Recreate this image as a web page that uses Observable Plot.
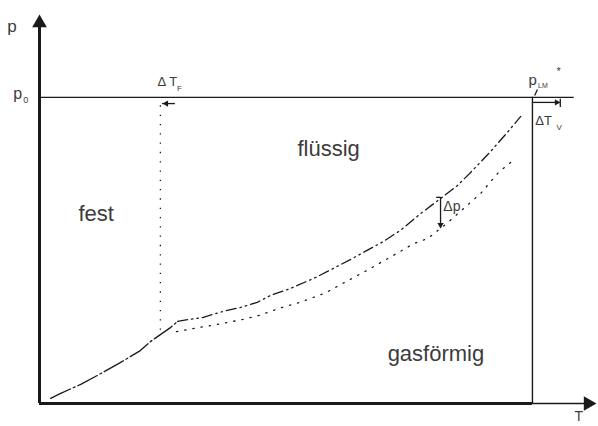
<!DOCTYPE html>
<html>
<head>
<meta charset="utf-8">
<script src="https://cdn.jsdelivr.net/npm/d3@7"></script>
<script src="https://cdn.jsdelivr.net/npm/@observablehq/plot@0.6"></script>
<style>
  html, body { margin: 0; padding: 0; background: #fff; }
  #chart svg { display: block; font-family: "Liberation Sans", Arial, sans-serif; }
</style>
</head>
<body>
<div id="chart"></div>
<script>
// ---- data (T and p in arbitrary units 0..100) ----
const pNull = 78.7;          // p0 level
const tEnd = 96.0;           // end of p0 line
const tRight = 88.5;         // right vertical line (T at p_LM*)
const tFusion = 21.7;        // dotted vertical (ΔT_F)
const pFusionTop = 76.6;
const pFusionBottom = 18.8;

// sublimation curve (solid-ish dashed)
const subT = [2.0, 3.8, 7.4, 11.0, 14.5, 18.1, 19.9, 21.7, 23.5, 24.8];
const subP = [1.3, 2.6, 4.9, 7.7, 10.5, 13.6, 15.9, 17.7, 19.5, 21.1];

// vapour pressure curve of pure solvent (dash-dot)
const vapT = [24.8, 26.8, 29.3, 33.0, 36.1, 39.1, 41.5, 45.1, 49.6, 55.8, 61.8, 64.8, 68.4, 72.0, 75.0, 77.4, 81.0, 84.0, 86.4];
const vapP = [21.1, 21.6, 22.1, 23.7, 24.7, 26.0, 27.8, 29.6, 32.4, 37.0, 41.7, 44.5, 48.8, 52.7, 56.0, 59.4, 64.8, 69.7, 73.8];

// vapour pressure curve of solution (dotted)
const solT = [24.6, 26.6, 28.4, 31.1, 32.9, 34.7, 36.5, 39.3, 43.6, 47.2, 51.4, 59.4, 67.2, 69.7, 73.3, 79.2, 82.4, 84.6];
const solP = [18.5, 19.0, 19.5, 20.1, 20.6, 21.1, 21.6, 22.6, 24.7, 26.2, 28.5, 34.7, 41.1, 42.4, 46.5, 54.0, 59.4, 62.0];

// Δp arrow
const dpT = 72.0, dpTop = 53.0, dpBottom = 45.0;
// ΔT_F arrow
const dtfP = 77.1, dtfFrom = 24.4, dtfTo = 22.1;
// ΔT_V arrow
const dtvP = 77.4, dtvFrom = 88.7, dtvTo = 93.5, dtvTickTop = 78.2, dtvTickBottom = 76.1;
// p_LM* marker tick
const lmTick = [{x1: 88.9, y1: 79.2, x2: 89.4, y2: 80.7}];

// region labels
const regionText = ["fest", "flüssig", "gasförmig"];
const regionT = [7.0, 46.3, 62.5];
const regionP = [47.0, 63.6, 11.0];

// small labels (main part)
const labText = ["p", "p", "Δ T", "p", "*", "ΔT", "Δp"];
const labT = [-5.8, -4.7, 21.2, 87.8, 92.8, 89.0, 72.5];
const labP = [95.6, 78.4, 81.5, 82.0, 84.4, 71.5, 49.6];
const labSize = [17, 16, 13, 15, 11, 13, 14];
// subscripts
const subText = ["0", "F", "LM", "V"];
const subTT = [-2.9, 24.7, 89.5, 92.8];
const subPP = [77.3, 80.4, 81.0, 70.4];
const subSize = [9, 8, 7, 8];

// axis names
const axisT = {text: "T", x: 96.8, y: -4.5};

// ---- build tables ----
const sub = subT.map((t, i) => ({T: t, p: subP[i]}));
const vap = vapT.map((t, i) => ({T: t, p: vapP[i]}));
const sol = solT.map((t, i) => ({T: t, p: solP[i]}));
const regions = regionText.map((s, i) => ({s, T: regionT[i], p: regionP[i]}));
const labs = labText.map((s, i) => ({s, T: labT[i], p: labP[i], size: labSize[i]}));
const subs = subText.map((s, i) => ({s, T: subTT[i], p: subPP[i], size: subSize[i]}));

// triangle symbol offset helper (tip offset from centroid for d3 triangle2)
const tipOff = r => Math.sqrt(Math.PI * r * r) * 0.6824;

const ink = "#1a1a1a";
const txt = "#3c3c3c";

const chart = Plot.plot({
  width: 598,
  height: 426,
  marginLeft: 39,
  marginRight: 2,
  marginTop: 14,
  marginBottom: 23,
  x: {domain: [0, 100], axis: null},
  y: {domain: [0, 100], axis: null},
  marks: [
    // p0 horizontal line
    Plot.ruleY([pNull], {x1: 0, x2: tEnd, stroke: ink, strokeWidth: 1.4}),
    // right vertical line
    Plot.ruleX([tRight], {y1: 0, y2: pNull, stroke: ink, strokeWidth: 1.4}),
    // dotted fusion line
    Plot.ruleX([tFusion], {y1: pFusionBottom, y2: pFusionTop, stroke: ink, strokeWidth: 1.3, strokeDasharray: "1.3,8"}),
    // curves
    Plot.line(sub, {x: "T", y: "p", stroke: ink, strokeWidth: 1.3, strokeDasharray: "22,3,2,3"}),
    Plot.line(vap, {x: "T", y: "p", stroke: ink, strokeWidth: 1.3, strokeDasharray: "10,4,1.5,4,1.5,4"}),
    Plot.line(sol, {x: "T", y: "p", stroke: ink, strokeWidth: 1.3, strokeDasharray: "1.3,7"}),
    // axes
    Plot.ruleX([0], {y1: 0, y2: 100 - tipOff(7) / 3.89, stroke: ink, strokeWidth: 3}),
    Plot.ruleY([0], {x1: 0, x2: tRight, stroke: ink, strokeWidth: 3}),
    Plot.ruleY([0], {x1: tRight, x2: 100 - tipOff(7) / 5.57, stroke: ink, strokeWidth: 1.5}),
    Plot.dot([{T: 0, p: 100}], {x: "T", y: "p", symbol: "triangle2", r: 7, fill: ink, stroke: null, dy: tipOff(7)}),
    Plot.dot([{T: 100, p: 0}], {x: "T", y: "p", symbol: "triangle2", r: 7, fill: ink, stroke: null, rotate: 90, dx: -tipOff(7)}),
    // Δp arrow
    Plot.ruleX([dpT], {y1: dpBottom, y2: dpTop, stroke: ink, strokeWidth: 1.3}),
    Plot.ruleY([dpTop], {x1: dpT - 0.7, x2: dpT, stroke: ink, strokeWidth: 1.3}),
    Plot.dot([{T: dpT, p: dpBottom}], {x: "T", y: "p", symbol: "triangle2", r: 3, fill: ink, stroke: null, rotate: 180, dy: -tipOff(3)}),
    // ΔT_F arrow
    Plot.ruleY([dtfP], {x1: dtfTo, x2: dtfFrom, stroke: ink, strokeWidth: 1.3}),
    Plot.dot([{T: dtfTo, p: dtfP}], {x: "T", y: "p", symbol: "triangle2", r: 3, fill: ink, stroke: null, rotate: -90, dx: tipOff(3)}),
    // ΔT_V arrow
    Plot.ruleY([dtvP], {x1: dtvFrom, x2: dtvTo, stroke: ink, strokeWidth: 1.3}),
    Plot.ruleX([dtvTo], {y1: dtvTickBottom, y2: dtvTickTop, stroke: ink, strokeWidth: 1.3}),
    Plot.dot([{T: dtvTo, p: dtvP}], {x: "T", y: "p", symbol: "triangle2", r: 3, fill: ink, stroke: null, rotate: 90, dx: -tipOff(3)}),
    // p_LM* tick
    Plot.link(lmTick, {x1: "x1", y1: "y1", x2: "x2", y2: "y2", stroke: ink, strokeWidth: 1.3}),
    // region labels
    Plot.text(regions, {x: "T", y: "p", text: "s", textAnchor: "start", lineAnchor: "bottom", fontSize: 22, fill: txt}),
    // small labels
    ...labs.map(d => Plot.text([d], {x: "T", y: "p", text: "s", textAnchor: "start", lineAnchor: "bottom", fontSize: d.size, fill: txt})),
    ...subs.map(d => Plot.text([d], {x: "T", y: "p", text: "s", textAnchor: "start", lineAnchor: "bottom", fontSize: d.size, fill: txt})),
    Plot.text([axisT], {x: "x", y: "y", text: "text", textAnchor: "middle", lineAnchor: "bottom", fontSize: 14, fill: txt})
  ]
});
document.getElementById("chart").appendChild(chart);
</script>
</body>
</html>
